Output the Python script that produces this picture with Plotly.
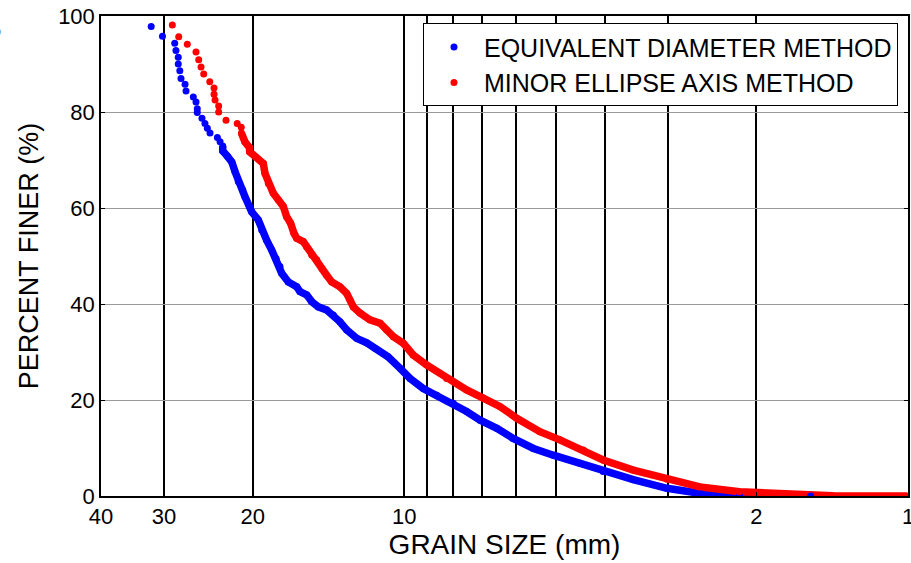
import plotly.graph_objects as go

# Equivalent diameter method (blue)
eq_size = [31.8, 30.2, 28.56, 28.4, 28.1, 28.1, 27.9, 27.75, 27.24, 27.12, 26.23, 25.91,
           25.76, 25.76, 25.21, 24.87, 24.60, 24.30, 23.50, 23.21, 22.93, 22.93, 22.45,
           22.0, 21.68, 21.36, 20.93, 20.72, 20.30, 20.09, 19.49, 19.19, 18.76, 18.33,
           17.97, 17.65, 17.51, 16.99, 16.35, 16.11, 15.62, 15.27, 14.81, 14.26, 13.83,
           13.42, 13.01, 12.43, 11.87, 11.43, 10.77, 10.19, 9.74, 9.17, 8.62, 7.99, 7.52,
           7.07, 6.55, 6.08, 5.54, 5.06, 4.48, 4.03, 3.51, 3.01, 2.59, 2.16, 1.56]
eq_pct = [97.8, 95.8, 94.3, 92.8, 91.4, 90.0, 88.6, 87.0, 85.8, 84.4, 83.1, 82.1,
          80.7, 79.9, 78.7, 77.6, 76.6, 75.6, 74.7, 73.8, 72.9, 71.9, 70.8,
          69.6, 67.6, 65.5, 63.75, 62.4, 60.3, 59.2, 57.5, 55.4, 53.3, 51.25,
          49.5, 47.8, 46.4, 44.6, 43.6, 42.6, 41.9, 40.5, 39.4, 38.75, 37.7,
          36.3, 34.6, 32.85, 31.9, 30.8, 29.0, 26.6, 24.5, 22.4, 21.0, 19.3, 17.6,
          15.8, 14.1, 12.0, 9.9, 8.5, 6.8, 5.1, 3.4, 1.6, 0.56, 0.1, 0.0]

# Minor ellipse axis method (red)
me_size = [28.87, 28.04, 26.96, 25.91, 25.59, 25.32, 25.01, 24.33, 23.86, 23.86, 23.75,
           23.36, 23.36, 22.59, 21.46, 21.07, 21.05, 20.72, 20.30, 20.27, 19.75, 19.05,
           18.90, 18.62, 18.20, 17.79, 17.38, 17.12, 16.81, 16.55, 16.35, 15.87, 15.62,
           15.27, 14.92, 14.58, 14.26, 13.93, 13.42, 13.01, 12.81, 12.62, 12.24, 11.70,
           11.17, 10.84, 10.51, 10.04, 9.60, 9.03, 8.24, 7.52, 6.97, 6.45, 5.98, 5.38,
           4.91, 4.41, 4.03, 3.51, 3.01, 2.59, 2.16, 1.77, 1.41, 1.006]
me_pct = [98.1, 95.7, 94.1, 92.5, 90.9, 89.4, 87.9, 86.3, 85.0, 83.7, 82.5,
          81.25, 80.0, 78.3, 77.6, 76.8, 75.6, 73.8, 72.6, 71.7, 70.7, 69.3,
          67.2, 65.1, 63.1, 61.7, 60.3, 58.2, 56.8, 54.7, 53.7, 53.0, 51.9,
          50.2, 49.2, 47.4, 46.0, 44.6, 43.6, 42.2, 40.8, 39.4, 38.1, 36.7,
          36.0, 34.6, 33.2, 31.8, 29.4, 27.3, 24.5, 22.1, 20.4, 18.6, 16.2, 13.4,
          11.7, 9.6, 7.5, 5.4, 3.5, 1.9, 0.9, 0.35, 0.06, 0.0]

x_tickvals = [40, 30, 20, 10, 9, 8, 7, 6, 5, 4, 3, 2, 1]
x_ticktext = ["40", "30", "20", "10", "", "", "", "", "", "", "", "2", "1"]
y_tickvals = [0, 20, 40, 60, 80, 100]

BLUE = "#0000ff"
RED = "#ff0000"
FONT = "Arial, 'Liberation Sans', sans-serif"

fig = go.Figure()
# dense continuous portions
fig.add_trace(go.Scatter(x=eq_size[20:], y=eq_pct[20:], mode="lines",
                         line=dict(color=BLUE, width=7.5), showlegend=False,
                         hoverinfo="skip"))
fig.add_trace(go.Scatter(x=me_size[16:], y=me_pct[16:], mode="lines",
                         line=dict(color=RED, width=7.5), showlegend=False,
                         hoverinfo="skip"))
fig.add_trace(go.Scatter(x=eq_size, y=eq_pct, mode="markers",
                         marker=dict(color=BLUE, size=7),
                         name="EQUIVALENT DIAMETER METHOD"))
fig.add_trace(go.Scatter(x=me_size, y=me_pct, mode="markers",
                         marker=dict(color=RED, size=7),
                         name="MINOR ELLIPSE AXIS METHOD"))

fig.add_annotation(text="6", xref="paper", yref="paper", x=-0.1215, y=0.971,
                   xanchor="right", yanchor="middle", showarrow=False,
                   font=dict(family=FONT, size=22, color="black"))

fig.update_layout(
    width=911, height=563, autosize=False,
    margin=dict(l=101, r=3, t=16, b=67, autoexpand=False),
    paper_bgcolor="white", plot_bgcolor="white",
    font=dict(family=FONT, color="black"),
    showlegend=True,
    legend=dict(x=0.399, y=0.985, xanchor="left", yanchor="top",
                bordercolor="black", borderwidth=1, bgcolor="white",
                font=dict(family=FONT, size=25, color="black"),
                itemwidth=50, tracegroupgap=0),
    xaxis=dict(type="log", range=[1.60206, 0], tickmode="array",
               tickvals=x_tickvals, ticktext=x_ticktext, automargin=False,
               showgrid=True, gridcolor="black", gridwidth=1.5,
               showline=True, linecolor="black", linewidth=1.5, mirror="ticks",
               ticks="inside", ticklen=4, tickcolor="black",
               ticklabeloverflow="allow",
               tickfont=dict(family=FONT, size=22, color="black"),
               title=dict(text="GRAIN SIZE (mm)", standoff=0,
                          font=dict(family=FONT, size=28, color="black")),
               zeroline=False),
    yaxis=dict(range=[0, 100], tickmode="array", tickvals=y_tickvals,
               automargin=False,
               showgrid=True, gridcolor="#9a9a9a", gridwidth=1.3,
               showline=True, linecolor="black", linewidth=1.5, mirror="ticks",
               ticks="inside", ticklen=4, tickcolor="black",
               tickfont=dict(family=FONT, size=22, color="black"),
               title=dict(text="PERCENT FINER (%)", standoff=12,
                          font=dict(family=FONT, size=27, color="black")),
               zeroline=False),
)

fig.write_html("out.html")
